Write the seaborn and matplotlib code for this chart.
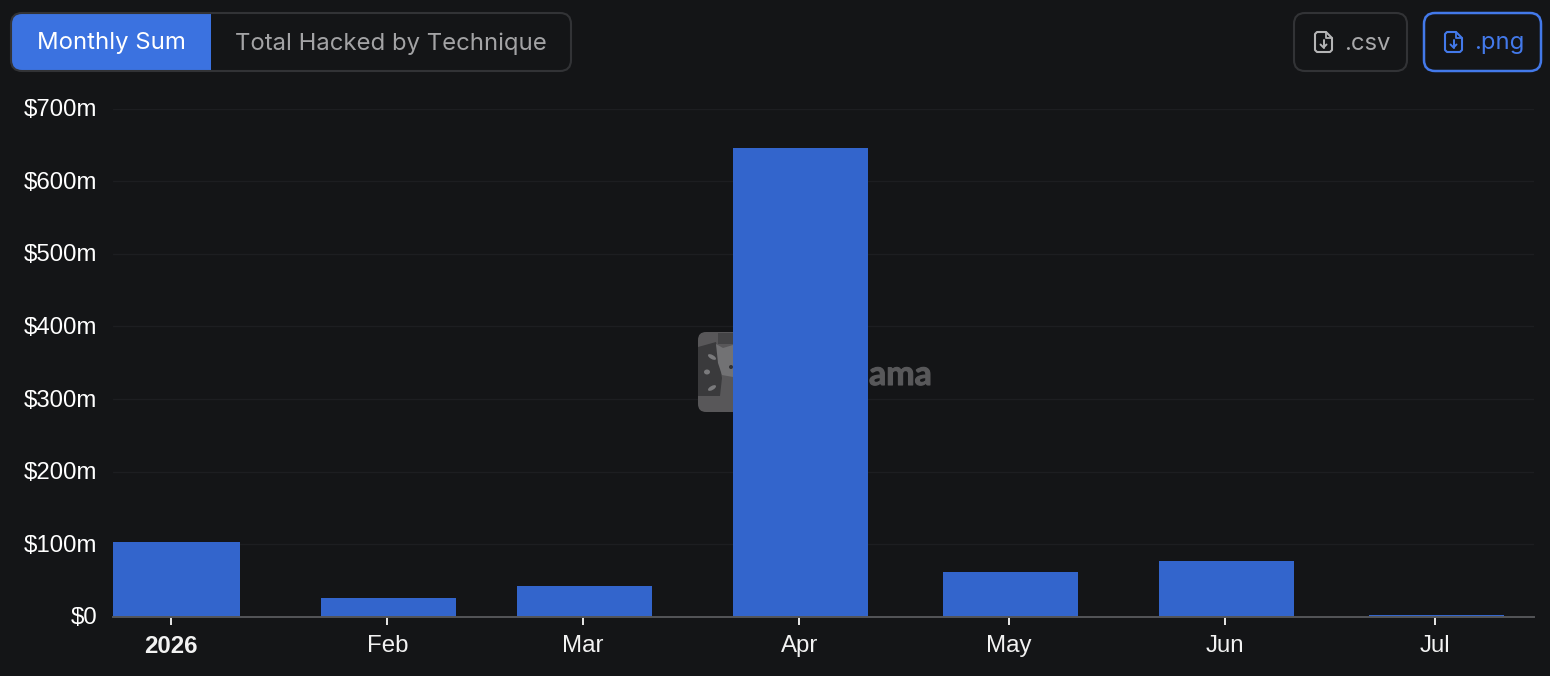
import matplotlib
matplotlib.use("Agg")
import matplotlib.pyplot as plt
import seaborn as sns
from matplotlib.patches import FancyBboxPatch, Rectangle, Polygon, Circle, Ellipse
from matplotlib.lines import Line2D
from matplotlib.transforms import ScaledTranslation
import matplotlib.patheffects as pe

# ---- data ----
month_labels = ["2026", "Feb", "Mar", "Apr", "May", "Jun", "Jul"]
day_of_year = [0, 31, 59, 90, 120, 151, 181]
hacked_musd = [103, 26, 42.5, 645, 62, 77, 3]
y_ticks = [0, 100, 200, 300, 400, 500, 600, 700]
y_tick_labels = ["$0", "$100m", "$200m", "$300m", "$400m", "$500m", "$600m", "$700m"]
tab_labels = ["Monthly Sum", "Total Hacked by Technique"]
button_labels = [".csv", ".png"]

BG = "#141517"
BAR = "#3365CC"
ACTIVE = "#3B72E0"
BORDER = "#323336"
GRID = "#1D1E21"
W, H = 1550, 676

sns.set_theme(style="dark")
plt.rcParams["font.family"] = ["Liberation Sans", "DejaVu Sans"]

fig = plt.figure(figsize=(W / 100, H / 100), dpi=100, facecolor=BG)

# Backdrop layer in pixel coordinates: interface chrome
ui = fig.add_axes([0, 0, 1, 1], zorder=0)
ui.set_xlim(0, W)
ui.set_ylim(H, 0)
ui.axis("off")

# Chart
ax_left, ax_right, ax_top, ax_bottom = 113, 1534, 108.5, 617
ax = fig.add_axes([ax_left / W, (H - ax_bottom) / H, (ax_right - ax_left) / W,
                   (ax_bottom - ax_top) / H], zorder=1)
ax.patch.set_alpha(0)


def rbox(target, x0, y0, x1, y1, r, fc="none", ec="none", lw=1.5, z=2):
    p = FancyBboxPatch((x0 + r, y0 + r), x1 - x0 - 2 * r, y1 - y0 - 2 * r,
                       boxstyle=f"round,pad={r},rounding_size={r}",
                       fc=fc, ec=ec, lw=lw, zorder=z, transform=ui.transData, clip_on=False)
    target.add_patch(p)
    return p


# Tab group
tabs = rbox(ui, 11, 13, 571, 71, 11, fc="none", ec=BORDER, lw=1.5, z=3)
active = Rectangle((11, 13), 200, 58, fc=ACTIVE, ec="none", zorder=2)
ui.add_patch(active)
active.set_clip_path(tabs.get_path(), tabs.get_transform())
ui.text(111.5, 43.5, tab_labels[0], color="white", family="Inter", fontsize=17.2,
        ha="center", va="center", zorder=4)
ui.text(391, 43.5, tab_labels[1], color="#A3A3A5", family="Inter", fontsize=17.2,
        ha="center", va="center", zorder=4)


def file_icon(x, y, color):
    # outline with folded corner, plus a downward arrow
    pts = [(x + 2, y), (x + 11, y), (x + 17, y + 6), (x + 17, y + 18), (x + 15, y + 20),
           (x + 2, y + 20), (x, y + 18), (x, y + 2)]
    ui.add_patch(Polygon(pts, closed=True, fc="none", ec=color, lw=1.5, joinstyle="round", zorder=4))
    ui.add_line(Line2D([x + 11, x + 11, x + 17], [y, y + 6, y + 6], color=color, lw=1.3, zorder=4))
    ui.add_line(Line2D([x + 8.5, x + 8.5], [y + 8, y + 15.5], color=color, lw=1.4, zorder=4))
    ui.add_line(Line2D([x + 5.5, x + 8.5, x + 11.5], [y + 12.5, y + 15.5, y + 12.5],
                       color=color, lw=1.4, zorder=4))


# Download buttons
rbox(ui, 1294, 13, 1407, 71, 11, ec=BORDER, lw=1.5)
file_icon(1315, 32, "#B5B5B6")
ui.text(1344, 43.5, button_labels[0], color="#A9A9AB", family="Inter", fontsize=17.2,
        ha="left", va="center", zorder=4)
rbox(ui, 1424, 13, 1541, 71, 11, ec="#4379EA", lw=1.8)
file_icon(1445, 32, "#4379EA")
ui.text(1474, 43.5, button_labels[1], color="#4379EA", family="Inter", fontsize=17.2,
        ha="left", va="center", zorder=4)

# Watermark: above the gridlines, below the bars
px = ui.transData
wm = dict(ec="none", transform=px, clip_on=False)
rbox(ax, 698, 332, 778, 412, 8, fc="#585759", z=1)
ax.add_patch(Polygon([(698, 347), (716, 342), (722, 378), (720, 396), (698, 396)], closed=True,
                     fc="#3A3A3C", zorder=1.1, **wm))
ax.add_patch(Rectangle((718, 333), 20, 11, fc="#444446", zorder=1.1, **wm))
ax.add_patch(Polygon([(716, 344), (723, 348), (733, 345), (733, 377), (722, 375), (718, 363)],
                     closed=True, fc="#727274", zorder=1.2, **wm))
ax.add_patch(Circle((731, 367), 2, fc="#333335", zorder=1.3, **wm))
ax.add_patch(Ellipse((712, 357), 9, 4, angle=30, fc="#7A7A7C", zorder=1.2, **wm))
ax.add_patch(Ellipse((707, 372), 6, 5, fc="#7A7A7C", zorder=1.2, **wm))
ax.add_patch(Ellipse((712, 388), 9, 4, angle=-30, fc="#7A7A7C", zorder=1.2, **wm))
ax.text(932, 385, "DefiLlama", color="#58585A", family="Lato", weight="bold", fontsize=24.4,
        ha="right", va="baseline", zorder=1.2, transform=px,
        path_effects=[pe.withStroke(linewidth=0.8, foreground="#58585A")])

sns.barplot(x=day_of_year, y=hacked_musd, native_scale=True, color=BAR, saturation=1,
            width=0.689, ax=ax, zorder=3, linewidth=0)

ax.set_xlim(-8.5, 195)
ax.set_ylim(0, 700)
ax.set_xlabel("")
ax.set_ylabel("")
ax.set_yticks(y_ticks)
ax.set_yticklabels(y_tick_labels, color="white", fontsize=17.3)
ax.set_xticks([d - 0.2 for d in day_of_year])
ax.set_xticklabels(month_labels, color="#F2F2F2", fontsize=17.3)
ax.get_xticklabels()[0].set_fontweight("bold")
ax.tick_params(axis="y", length=0, pad=11.5)
ax.tick_params(axis="x", length=5.8, width=1.4, color="#E8E8E8", pad=7.2, bottom=True)
up = ScaledTranslation(0, 1 / 100, fig.dpi_scale_trans)
for lab in ax.get_yticklabels():
    lab.set_transform(lab.get_transform() + up)
ax.grid(False)
ax.yaxis.grid(True, color=GRID, lw=1)
ax.set_axisbelow(True)
for side in ["top", "right", "left"]:
    ax.spines[side].set_visible(False)
ax.spines["bottom"].set_color("#545558")
ax.spines["bottom"].set_linewidth(1.4)
ax.spines["bottom"].set_zorder(5)

fig.savefig("out.png", dpi=100, facecolor=BG)
